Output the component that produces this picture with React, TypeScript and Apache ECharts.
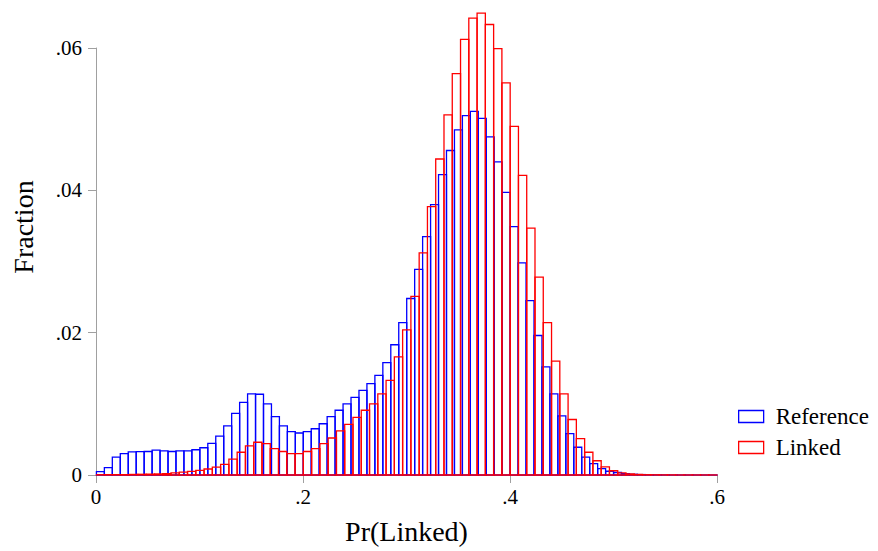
import React, { useEffect, useRef } from "react";
import * as echarts from "echarts";

// Histogram heights (fraction) per bin
const referenceStart = 0.0004;
const referenceBins = 78;
const referenceValues = [
  0.00047, 0.00103, 0.0025, 0.003, 0.00325, 0.00328, 0.0033, 0.0035, 0.0034, 0.0033,
  0.0034, 0.0034, 0.00355, 0.00383, 0.00444, 0.00545, 0.0069, 0.00865, 0.0102, 0.0114,
  0.01135, 0.01, 0.0082, 0.0069, 0.0061, 0.0059, 0.0061, 0.0065, 0.0072, 0.0082,
  0.0091, 0.01, 0.0109, 0.0119, 0.01285, 0.014, 0.0158, 0.0183, 0.0214, 0.0248,
  0.0289, 0.0335, 0.038, 0.0422, 0.0456, 0.0485, 0.0505, 0.0511, 0.0501, 0.0475,
  0.044, 0.0397, 0.0349, 0.0298, 0.0245, 0.0196, 0.0152, 0.0114, 0.0083, 0.0058,
  0.0039, 0.0025, 0.0016, 0.0009, 0.00053, 0.00035, 0.0002, 0.0001, 0.00006, 0.00003,
  0.00002, 0.00002, 0.00001, 0.00001, 0.00001, 0.00001, 0.00001, 0.00001,
];

const linkedStart = 0.0005;
const linkedBins = 75;
const linkedValues = [
  0.00004, 0.00005, 0.00005, 0.00006, 0.00008, 0.0001, 0.00012, 0.00015, 0.0002, 0.0003,
  0.0004, 0.0005, 0.00065, 0.00084, 0.0011, 0.0015, 0.00224, 0.0032, 0.0041, 0.0046,
  0.0044, 0.0037, 0.0033, 0.003, 0.003, 0.0033, 0.0037, 0.0044, 0.0052, 0.0062,
  0.0071, 0.0081, 0.0091, 0.01, 0.0114, 0.0133, 0.0166, 0.0204, 0.0251, 0.0312,
  0.0377, 0.0444, 0.0506, 0.0564, 0.0612, 0.0642, 0.0649, 0.0633, 0.0599, 0.0551,
  0.049, 0.0421, 0.0347, 0.0278, 0.0214, 0.016, 0.0114, 0.0078, 0.0051, 0.0032,
  0.002, 0.00115, 0.0006, 0.0003, 0.00015, 0.00008, 0.00004, 0.00003, 0.00002, 0.00002,
  0.00001, 0.00001, 0.00001, 0.00001, 0.00001,
];

const dataMax = 0.6;
const xTicks = [0, 0.2, 0.4, 0.6];
const yTicks = [0, 0.02, 0.04, 0.06];

const FONT = '"Liberation Serif", "DejaVu Serif", serif';

function bins(start: number, n: number, values: number[]) {
  const w = (dataMax - start) / n;
  return values.map((v, i) => [start + i * w, start + (i + 1) * w, v]);
}

function fmt(v: number) {
  if (Math.abs(v) < 1e-12) return "0";
  return String(+v.toFixed(4)).replace(/^0\./, ".");
}

function histSeries(name: string, color: string, data: number[][]) {
  return {
    type: "custom",
    name,
    clip: false,
    data,
    encode: { x: [0, 1], y: 2 },
    renderItem: (params: any, api: any) => {
      const x0 = api.value(0);
      const x1 = api.value(1);
      const h = api.value(2);
      const p0 = api.coord([x0, 0]);
      const p1 = api.coord([x1, h]);
      return {
        type: "rect",
        shape: { x: p0[0], y: p1[1], width: p1[0] - p0[0], height: p0[1] - p1[1] },
        style: { fill: "none", stroke: color, lineWidth: 1.3 },
      };
    },
  };
}

export default function App() {
  const ref = useRef<HTMLDivElement>(null);
  useEffect(() => {
    if (!ref.current) return;
    const chart = echarts.init(ref.current, null, { renderer: "svg" });
    chart.setOption({
      animation: false,
      backgroundColor: "#fff",
      grid: { left: 96, right: 161, top: 48, bottom: 76, containLabel: false },
      xAxis: {
        type: "value",
        min: xTicks[0],
        max: xTicks[xTicks.length - 1],
        interval: 0.2,
        name: "Pr(Linked)",
        nameLocation: "middle",
        nameGap: 42,
        nameTextStyle: { fontFamily: FONT, fontSize: 28, color: "#000" },
        axisLine: { show: true, lineStyle: { color: "#a0a0a0", width: 1 } },
        axisTick: { show: true, length: 8, lineStyle: { color: "#a0a0a0" } },
        axisLabel: { formatter: fmt, fontFamily: FONT, fontSize: 21, color: "#000", margin: 11 },
        splitLine: { show: false },
      },
      yAxis: {
        type: "value",
        min: yTicks[0],
        max: yTicks[yTicks.length - 1],
        interval: 0.02,
        axisLine: { show: true, lineStyle: { color: "#a0a0a0", width: 1 } },
        axisTick: { show: true, length: 8, lineStyle: { color: "#a0a0a0" } },
        axisLabel: { formatter: fmt, fontFamily: FONT, fontSize: 21, color: "#000", margin: 14 },
        splitLine: { show: false },
      },
      legend: {
        orient: "vertical",
        left: 733,
        top: 400,
        itemWidth: 25,
        itemHeight: 12,
        itemGap: 8,
        textStyle: { fontFamily: FONT, fontSize: 23, color: "#000", padding: [0, 0, 0, 7] },
        data: [
          { name: "Reference", icon: "rect", itemStyle: { color: "rgba(255,255,255,0)", borderColor: "#0000ff", borderWidth: 1.3 } },
          { name: "Linked", icon: "rect", itemStyle: { color: "rgba(255,255,255,0)", borderColor: "#ff0000", borderWidth: 1.3 } },
        ],
      },
      graphic: [
        {
          type: "text",
          x: 23,
          y: 227,
          rotation: Math.PI / 2,
          style: {
            text: "Fraction",
            fontFamily: FONT,
            fontSize: 28,
            fill: "#000",
            align: "center",
            verticalAlign: "middle",
          },
        },
      ],
      series: [
        histSeries("Reference", "#0000ff", bins(referenceStart, referenceBins, referenceValues)),
        histSeries("Linked", "#ff0000", bins(linkedStart, linkedBins, linkedValues)),
      ],
    });
    return () => chart.dispose();
  }, []);
  return (
    <div
      ref={ref}
      style={{ position: "fixed", left: 0, top: 0, width: 878, height: 551, background: "#fff" }}
    />
  );
}
